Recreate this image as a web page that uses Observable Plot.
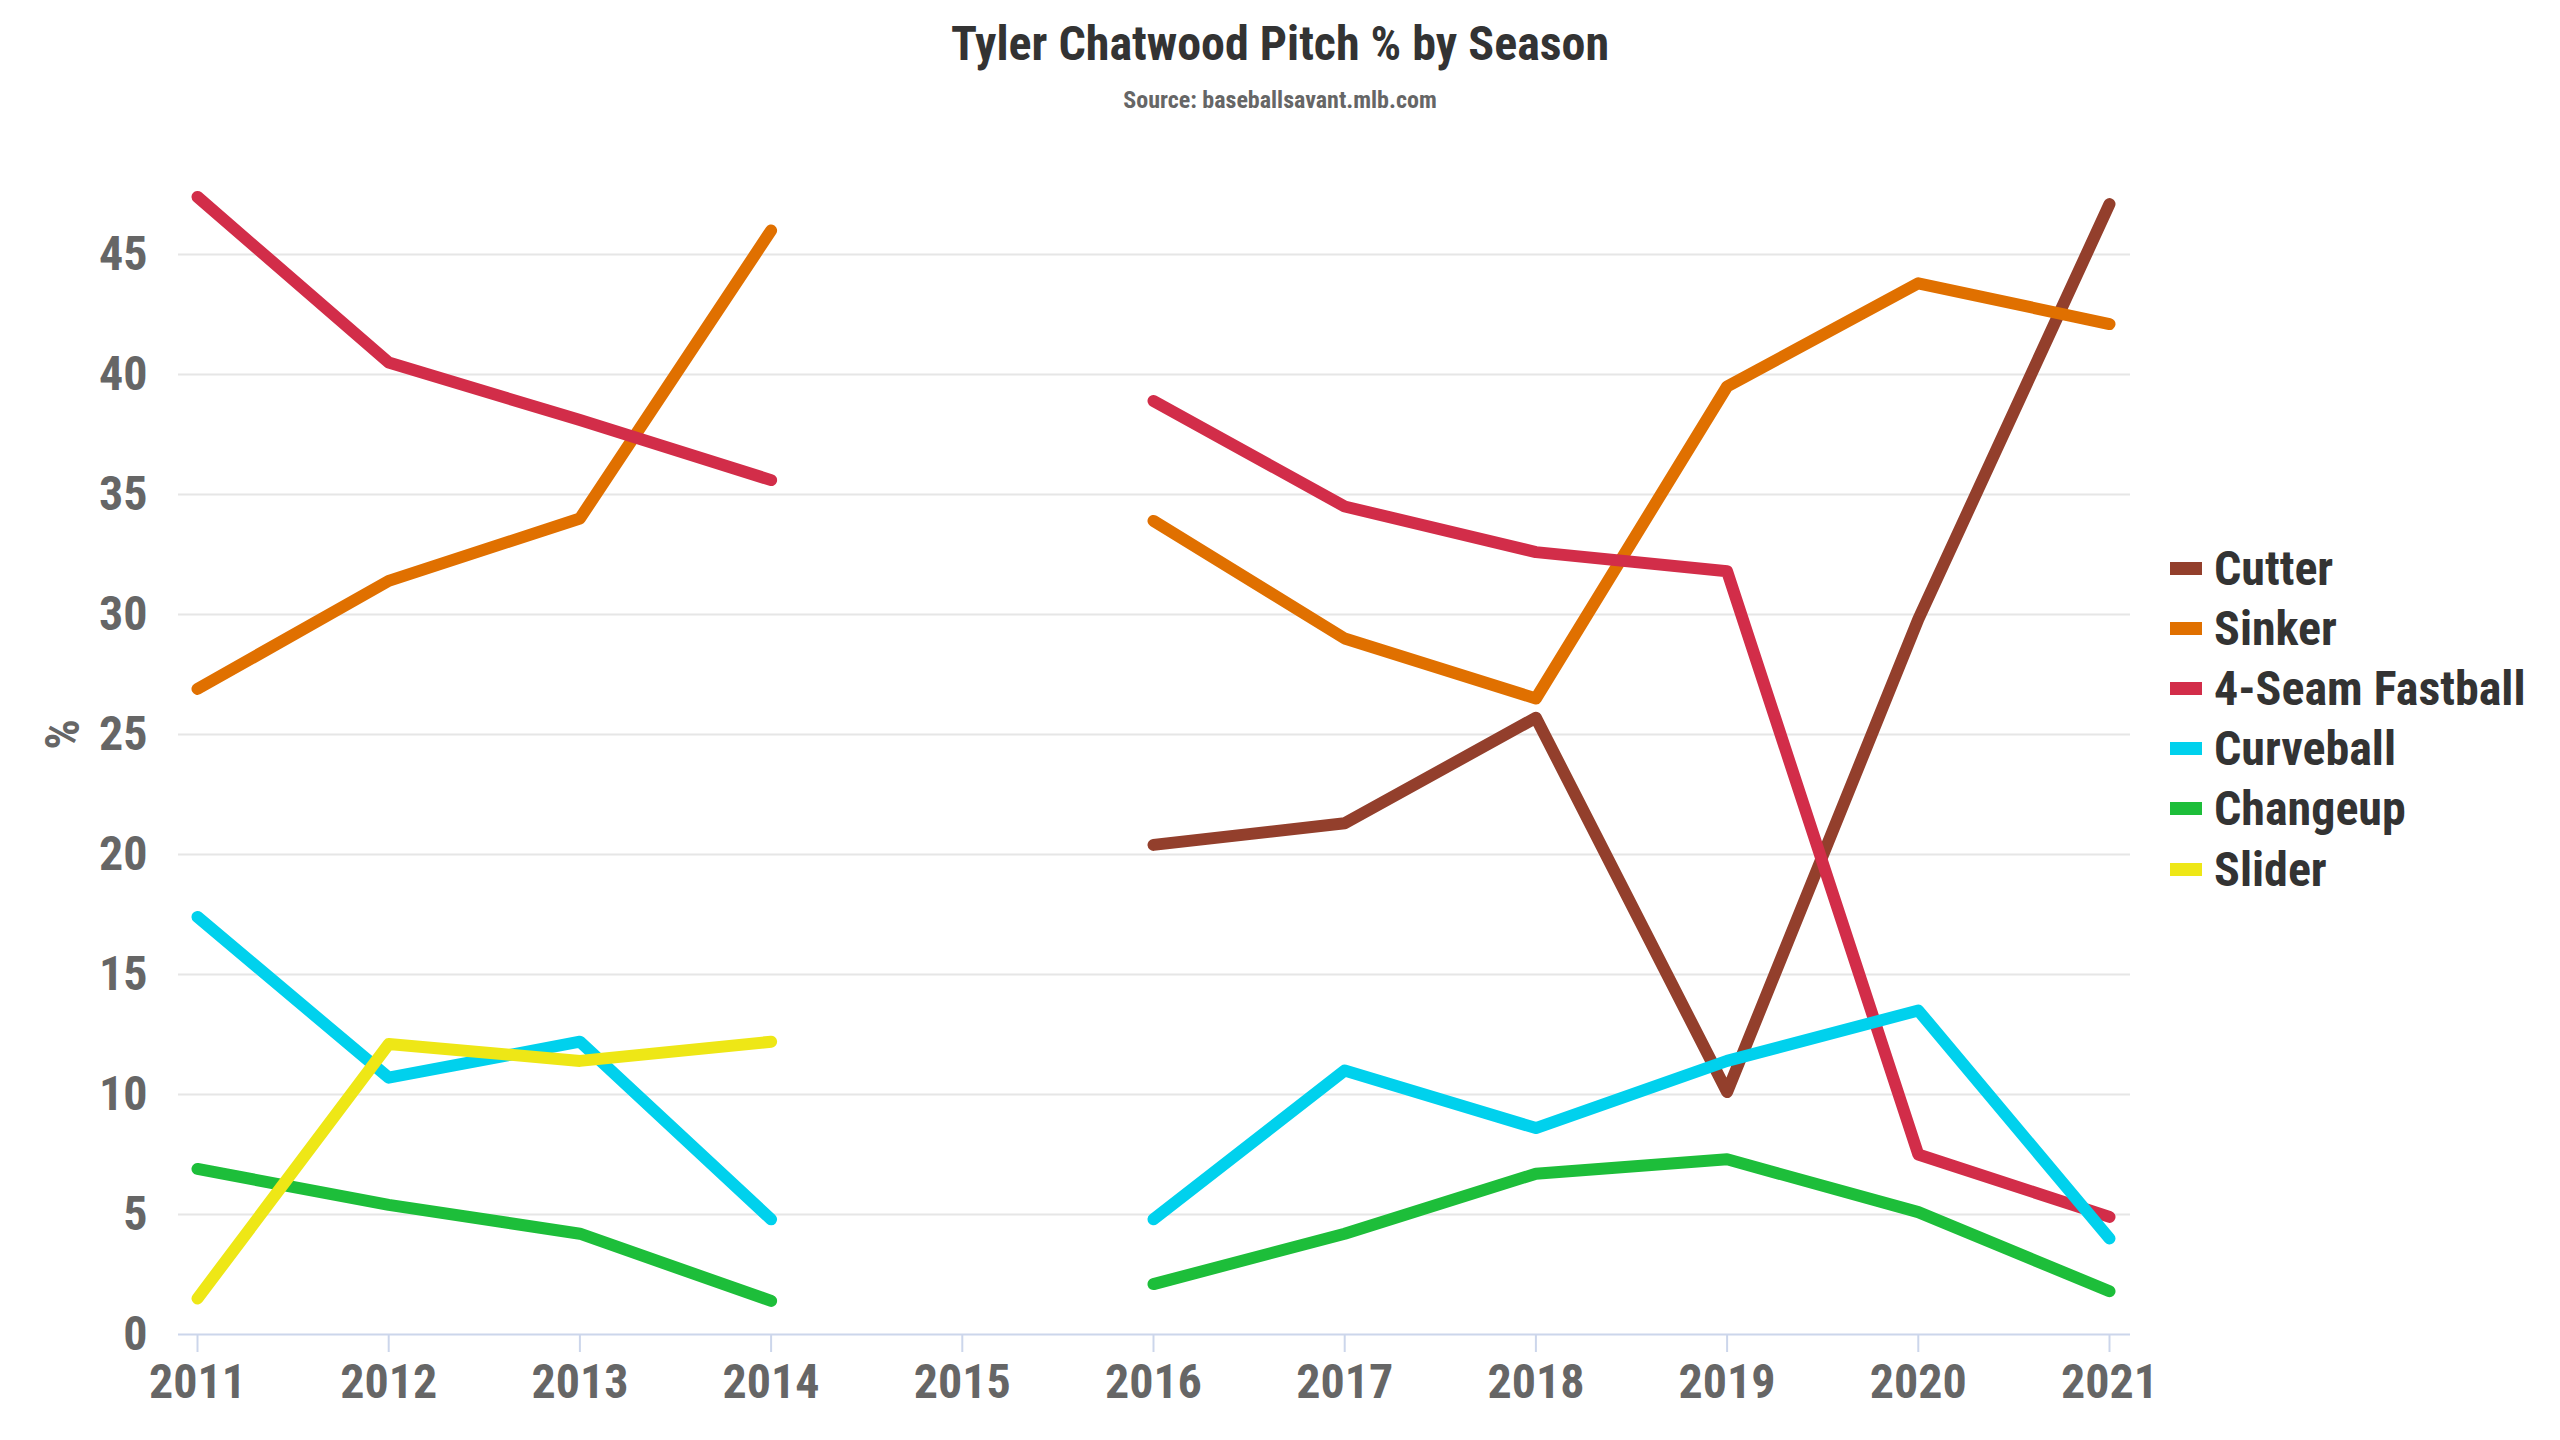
<!DOCTYPE html>
<html>
<head>
<meta charset="utf-8">
<script src="https://cdn.jsdelivr.net/npm/d3@7"></script>
<script src="https://cdn.jsdelivr.net/npm/@observablehq/plot@0.6"></script>
<style>
  html, body { margin: 0; padding: 0; background: #fff; }
  body { width: 2560px; height: 1440px; position: relative; overflow: hidden;
         font-family: "Roboto Condensed", "Roboto", sans-serif; font-stretch: 75%; font-weight: 700; }
  #title { position: absolute; left: 0; width: 2560px; top: 16px; line-height: 56px; text-align: center;
           font-size: 48px; color: #333; }
  #subtitle { position: absolute; left: 0; width: 2560px; top: 85px; line-height: 30px; text-align: center;
              font-size: 24px; color: #666; }
  #chart { position: absolute; left: 0; top: 120px; }
  #legend { position: absolute; left: 2170px; top: 538px; }
  .item { height: 60.2px; display: flex; align-items: center; font-size: 48px; color: #333; }
  .sw { width: 32px; height: 13px; margin-right: 12px; }
</style>
</head>
<body>
<div id="title">Tyler Chatwood Pitch % by Season</div>
<div id="subtitle">Source: baseballsavant.mlb.com</div>
<div id="chart"></div>
<div id="legend"></div>
<script>
const years = [2011, 2012, 2013, 2014, 2015, 2016, 2017, 2018, 2019, 2020, 2021];
const pitches = ["Cutter", "Sinker", "4-Seam Fastball", "Curveball", "Changeup", "Slider"];
const colors = ["#933f2c", "#e07000", "#d22d49", "#00d1ed", "#1dbe3a", "#eee716"];
const cutter    = [null, null, null, null, null, 20.4, 21.3, 25.7, 10.1, 29.8, 47.1];
const sinker    = [26.9, 31.4, 34.0, 46.0, null, 33.9, 29.0, 26.5, 39.5, 43.8, 42.1];
const fourSeam  = [47.4, 40.5, 38.1, 35.6, null, 38.9, 34.5, 32.6, 31.8, 7.5, 4.9];
const curveball = [17.4, 10.7, 12.2, 4.8, null, 4.8, 11.0, 8.6, 11.4, 13.5, 4.0];
const changeup  = [6.9, 5.4, 4.2, 1.4, null, 2.1, 4.2, 6.7, 7.3, 5.1, 1.8];
const slider    = [1.5, 12.1, 11.4, 12.2, null, null, null, null, null, null, null];
const yTicks = [0, 5, 10, 15, 20, 25, 30, 35, 40, 45];

const series = [cutter, sinker, fourSeam, curveball, changeup, slider];
const rows = [];
pitches.forEach((p, i) => years.forEach((yr, j) => rows.push({pitch: p, year: yr, value: series[i][j]})));

const font = '"Roboto Condensed", "Roboto", sans-serif';
const chart = Plot.plot({
  width: 2560,
  height: 1320,
  marginLeft: 178,
  marginRight: 430,
  marginTop: 14,
  marginBottom: 106,
  style: {fontFamily: font, fontSize: "48px", fontWeight: 700, color: "#666", background: "#fff", fontStretch: "75%"},
  x: {domain: [2011, 2021], insetLeft: 19, insetRight: 21},
  y: {domain: [0, 50]},
  color: {domain: pitches, range: colors},
  marks: [
    Plot.ruleY(yTicks.filter(d => d > 0), {stroke: "#e6e6e6", strokeWidth: 2}),
    Plot.ruleY([0], {stroke: "#ccd6eb", strokeWidth: 2}),
    Plot.axisX({ticks: years, tickFormat: "d", tickSize: 18, tickPadding: 11, stroke: "#ccd6eb", strokeWidth: 2, strokeOpacity: 1, fill: "#666", label: null}),
    Plot.axisY({ticks: yTicks, tickSize: 0, tickPadding: 31, fill: "#666", label: "%", labelAnchor: "center", labelArrow: "none", labelOffset: 134}),
    Plot.line(rows, {x: "year", y: "value", z: "pitch", stroke: "pitch", strokeWidth: 12, strokeLinecap: "round", strokeLinejoin: "round"})
  ]
});
document.getElementById("chart").appendChild(chart);

const legend = document.getElementById("legend");
pitches.forEach((p, i) => {
  const item = document.createElement("div");
  item.className = "item";
  const sw = document.createElement("div");
  sw.className = "sw";
  sw.style.background = colors[i];
  const t = document.createElement("span");
  t.textContent = p;
  item.appendChild(sw);
  item.appendChild(t);
  legend.appendChild(item);
});
</script>
</body>
</html>
